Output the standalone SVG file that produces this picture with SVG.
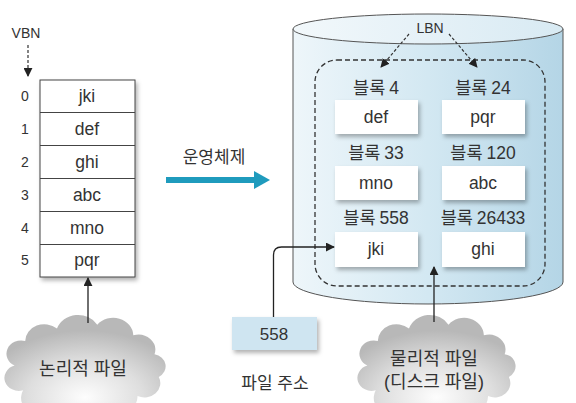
<svg xmlns="http://www.w3.org/2000/svg" width="576" height="403" viewBox="0 0 576 403">
<style>
text{font-family:"Liberation Sans","Noto Sans CJK KR",sans-serif;fill:#333;text-anchor:middle;dominant-baseline:central}
.t{font-size:17.5px}
.n{font-size:14px}
.lbl{font-size:17.5px;word-spacing:-1px}
.blk{fill:#fff;filter:url(#sh)}
.ln{fill:none;stroke:#222;stroke-width:1.3}
.dash{fill:none;stroke:#333;stroke-width:1.2;stroke-dasharray:3,2}
</style>
<defs>
<filter id="sh" x="-20%" y="-20%" width="150%" height="160%">
<feDropShadow dx="2" dy="3" stdDeviation="2" flood-color="#000" flood-opacity="0.3"/>
</filter>
<linearGradient id="cyl" x1="0" y1="0" x2="1" y2="0">
<stop offset="0" stop-color="#eef6fa"/>
<stop offset="0.5" stop-color="#d3e8f2"/>
<stop offset="1" stop-color="#b4d5e6"/>
</linearGradient>
<linearGradient id="top" x1="0" y1="0" x2="1" y2="0">
<stop offset="0" stop-color="#f2f8fb"/>
<stop offset="1" stop-color="#d8eaf3"/>
</linearGradient>
<radialGradient id="cloud" cx="50%" cy="80%" r="65%">
<stop offset="0" stop-color="#fdfdfd"/>
<stop offset="0.55" stop-color="#dedede"/>
<stop offset="1" stop-color="#b8b8b8"/>
</radialGradient>
<marker id="ah" viewBox="0 0 10 10" refX="9" refY="5" markerWidth="9" markerHeight="9" markerUnits="userSpaceOnUse" orient="auto">
<path d="M0,0 L10,5 L0,10 Z" fill="#222"/>
</marker>
<path id="cl" d="M10,48 A14,14 0 0 1 20,22 A18,18 0 0 1 50,9 A21,21 0 0 1 88,5 A19,19 0 0 1 122,16 A16,16 0 0 1 142,36 A13,13 0 0 1 146,60 A15,15 0 0 1 126,80 A21,21 0 0 1 88,92 A21,21 0 0 1 50,90 A17,17 0 0 1 18,74 A12,12 0 0 1 10,48 Z" fill="url(#cloud)"/>
</defs>

<g id="vbn-label">
<text x="26" y="33" class="n">VBN</text>
</g>

<g id="logical-table">
<g filter="url(#sh)">
<rect x="40" y="80" width="95" height="197" fill="#fff" stroke="#444"/>
</g>
<g stroke="#444" stroke-width="1">
<line x1="40" y1="112.5" x2="135" y2="112.5"/>
<line x1="40" y1="145.5" x2="135" y2="145.5"/>
<line x1="40" y1="178.5" x2="135" y2="178.5"/>
<line x1="40" y1="211.5" x2="135" y2="211.5"/>
<line x1="40" y1="244.5" x2="135" y2="244.5"/>
</g>
<text x="87" y="96" class="t">jki</text>
<text x="87" y="129" class="t">def</text>
<text x="87" y="162" class="t">ghi</text>
<text x="87" y="195" class="t">abc</text>
<text x="87" y="228" class="t">mno</text>
<text x="87" y="260" class="t">pqr</text>
<text x="25" y="96" class="n">0</text>
<text x="25" y="129" class="n">1</text>
<text x="25" y="162" class="n">2</text>
<text x="25" y="195" class="n">3</text>
<text x="25" y="228" class="n">4</text>
<text x="25" y="260" class="n">5</text>
</g>

<g id="logical-file">
<use href="#cl" transform="translate(4,320) scale(1.06,0.95)"/>
<text x="83" y="369" style="font-size:18px">논리적 파일</text>
</g>

<g id="os-arrow">
<line x1="166" y1="180" x2="256" y2="180" stroke="#1f9bbd" stroke-width="6"/>
<polygon points="254,171 270,180 254,189" fill="#1f9bbd"/>
<text x="214" y="157" style="font-size:17px">운영체제</text>
</g>

<g id="disk">
<path d="M293,29 L293,282 A135,22 0 0 0 563,282 L563,29 Z" fill="url(#cyl)" stroke="#555" stroke-width="1"/>
<ellipse cx="428" cy="29" rx="135" ry="15" fill="url(#top)" stroke="#555" stroke-width="1"/>
<rect x="315" y="60" width="230" height="226" rx="22" fill="none" stroke="#333" stroke-width="1.3" stroke-dasharray="5,3"/>
<text x="430" y="28" class="n">LBN</text>
</g>

<g id="block4"><text x="376" y="88" class="lbl">블록 4</text><rect x="335" y="100" width="83" height="34" class="blk"/><text x="376" y="117" class="t">def</text></g>
<g id="block24"><text x="483" y="88" class="lbl">블록 24</text><rect x="442" y="100" width="83" height="34" class="blk"/><text x="483" y="117" class="t">pqr</text></g>
<g id="block33"><text x="376" y="153" class="lbl">블록 33</text><rect x="335" y="166" width="83" height="34" class="blk"/><text x="376" y="183" class="t">mno</text></g>
<g id="block120"><text x="483" y="153" class="lbl">블록 120</text><rect x="442" y="166" width="83" height="34" class="blk"/><text x="483" y="183" class="t">abc</text></g>
<g id="block558"><text x="376" y="218" class="lbl">블록 558</text><rect x="335" y="232" width="83" height="35" class="blk"/><text x="376" y="249" class="t">jki</text></g>
<g id="block26433"><text x="483" y="218" class="lbl">블록 26433</text><rect x="442" y="232" width="83" height="35" class="blk"/><text x="483" y="249" class="t">ghi</text></g>

<g id="file-address">
<rect x="232" y="317" width="85" height="33" fill="#cfe5f1" filter="url(#sh)"/>
<text x="274" y="334" style="font-size:17px">558</text>
<text x="275" y="383" style="font-size:17px">파일 주소</text>
</g>

<g id="physical-file">
<use href="#cl" transform="translate(357,320) scale(1.04,0.95)"/>
<text x="434" y="359" style="font-size:18px">물리적 파일</text>
<text x="434" y="382" style="font-size:18px">(디스크 파일)</text>
</g>

<g id="connectors">
<line x1="28" y1="45" x2="28" y2="76" class="dash" marker-end="url(#ah)"/>
<line x1="409" y1="34" x2="381" y2="67" class="dash" marker-end="url(#ah)"/>
<line x1="449" y1="34" x2="477" y2="67" class="dash" marker-end="url(#ah)"/>
<line x1="88" y1="323" x2="88" y2="278" class="ln" marker-end="url(#ah)"/>
<path d="M273.5,317 L273.5,255 Q273.5,247 281.5,247 L334,247" class="ln" marker-end="url(#ah)"/>
<line x1="434" y1="322" x2="434" y2="267" class="ln" marker-end="url(#ah)"/>
</g>
</svg>
